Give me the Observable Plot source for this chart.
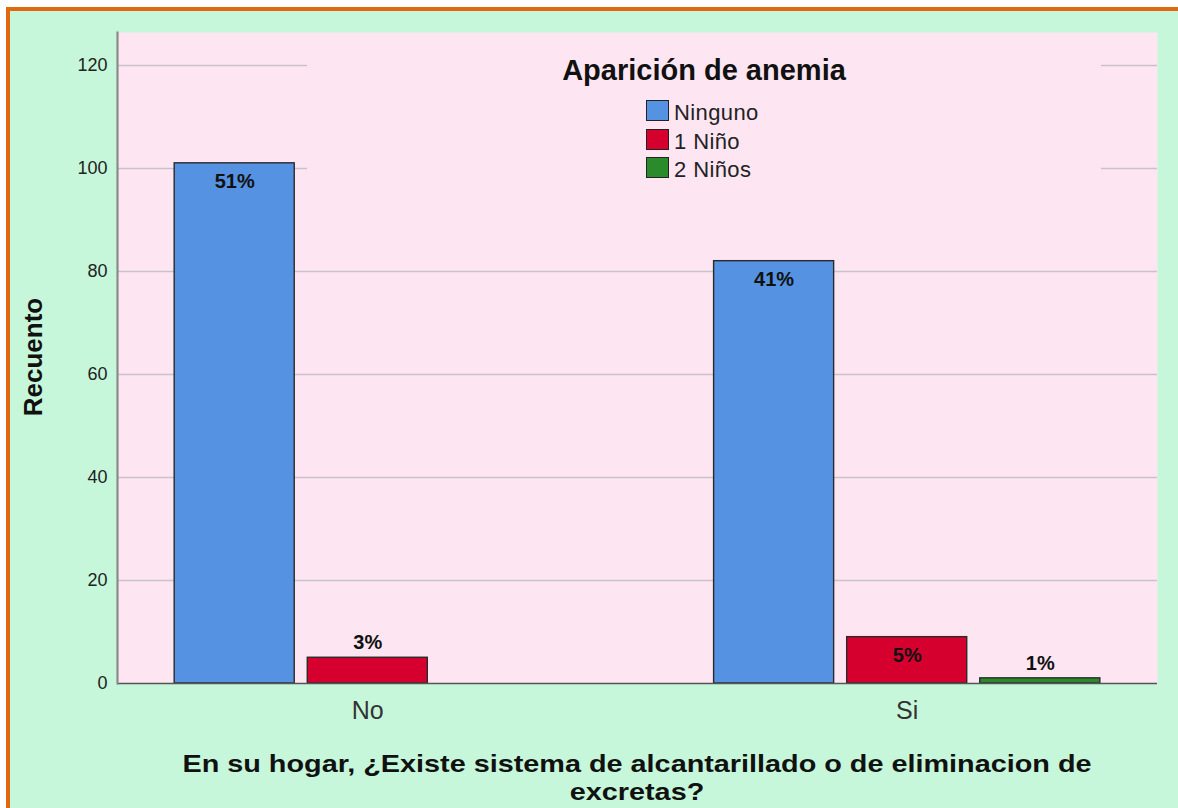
<!DOCTYPE html>
<html>
<head>
<meta charset="utf-8">
<script src="https://cdn.jsdelivr.net/npm/d3@7"></script>
<script src="https://cdn.jsdelivr.net/npm/@observablehq/plot@0.6"></script>
<style>
  html, body { margin: 0; padding: 0; background: #fff; }
  #page { position: relative; width: 1178px; height: 808px; overflow: hidden; background: #fff;
          font-family: "Liberation Sans", Arial, sans-serif; }
  #topbar { position: absolute; left: 6px; top: 7px; width: 1172px; height: 4px; background: #e0680e; }
  #leftbar { position: absolute; left: 6px; top: 7px; width: 4px; height: 801px; background: #e0680e; }
  #bg { position: absolute; left: 10px; top: 11px; width: 1168px; height: 797px; background: #c6f7da; }
  .layer { position: absolute; left: 0; top: 0; }
  #legend { position: absolute; left: 307px; top: 40px; width: 794px; height: 140px; background: #fde6f2; }
  #legend .title { position: absolute; left: 0; top: 14px; width: 100%; text-align: center;
                   font-weight: bold; font-size: 29px; line-height: 32px; color: #111; }
  #legend .item { position: absolute; left: 339px; height: 22px; }
  #legend .sw { position: absolute; left: 0; top: 0; width: 21px; height: 19px; border: 1.5px solid #222; }
  #legend .lab { position: absolute; left: 28px; top: 1px; font-size: 22px; letter-spacing: 0.4px;
                 line-height: 24px; color: #222; white-space: nowrap; }
  #ytitle { position: absolute; left: 33px; top: 357px; transform: translate(-50%, -50%) rotate(-90deg);
            font-weight: bold; font-size: 26px; color: #111; white-space: nowrap; }
  #xtitle { position: absolute; left: 37px; top: 750px; width: 1200px; text-align: center;
            font-weight: bold; font-size: 24px; line-height: 28px; color: #111;
            transform: scaleX(1.2); transform-origin: 600px 0; }
</style>
</head>
<body>
<div id="page">
  <div id="bg"></div>
  <div id="topbar"></div>
  <div id="leftbar"></div>
  <div id="back" class="layer"></div>
  <div id="legend"></div>
  <div id="front" class="layer"></div>
  <div id="ytitle">Recuento</div>
  <div id="xtitle">En su hogar, ¿Existe sistema de alcantarillado o de eliminacion de<br>excretas?</div>
</div>
<script>
// ---- data ----
const groups = ["No", "Si"];
const series = ["Ninguno", "1 Niño", "2 Niños"];
const countsNo = [101, 5, 0];
const countsSi = [82, 9, 1];
const pctNo = ["51%", "3%", ""];
const pctSi = ["41%", "5%", "1%"];
const seriesColors = ["#5593e2", "#d6002f", "#2b8a2b"];
const yTicks = [0, 20, 40, 60, 80, 100, 120];
const yMax = 126.4;
const legendTitle = "Aparición de anemia";

// ---- table ----
const rows = [];
groups.forEach((g, gi) => {
  const counts = gi === 0 ? countsNo : countsSi;
  const pcts = gi === 0 ? pctNo : pctSi;
  series.forEach((s, si) => {
    if (counts[si] > 0) rows.push({group: g, series: s, value: counts[si], pct: pcts[si]});
  });
});

const frameOpts = {
  width: 1178,
  height: 808,
  marginLeft: 117,
  marginRight: 21,
  marginTop: 32,
  marginBottom: 125,
  style: {background: "transparent", fontFamily: "'Liberation Sans', Arial, sans-serif", overflow: "visible"}
};

// background layer: plot area, grid, y axis
const back = Plot.plot({
  ...frameOpts,
  y: {domain: [0, yMax], label: null},
  marks: [
    Plot.frame({fill: "#fde6f2", stroke: null}),
    Plot.ruleY(yTicks.filter(t => t > 0), {stroke: "#c9c3c9", strokeWidth: 1.6}),
    Plot.axisY({ticks: yTicks, tickSize: 0, tickPadding: 10, fontSize: 18, color: "#222", label: null})
  ]
});
document.getElementById("back").appendChild(back);

// front layer: bars, labels, group axis
const labelFont = {fontWeight: "bold", fontSize: 20, fill: "#111"};
const front = Plot.plot({
  ...frameOpts,
  fx: {domain: groups, paddingInner: 0.284, paddingOuter: 0.106, round: false, label: null},
  x: {domain: series, paddingInner: 0.098, paddingOuter: 0, round: false, axis: null},
  y: {domain: [0, yMax], label: null, axis: null},
  color: {domain: series, range: seriesColors},
  marks: [
    Plot.barY(rows, {fx: "group", x: "series", y: "value", fill: "series", stroke: "#2a2a2a", strokeWidth: 1.4}),
    Plot.text(rows.filter(d => d.value >= 8), {fx: "group", x: "series", y: "value", text: "pct", dy: 18, ...labelFont}),
    Plot.text(rows.filter(d => d.value < 8), {fx: "group", x: "series", y: "value", text: "pct", dy: -15, ...labelFont}),
    Plot.axisFx({anchor: "bottom", tickSize: 0, tickPadding: 18, fontSize: 25, label: null, color: "#333"})
  ]
});
document.getElementById("front").appendChild(front);

// axis lines on top
const lines = Plot.plot({
  ...frameOpts,
  y: {domain: [0, yMax], axis: null},
  marks: [
    Plot.ruleY([0], {stroke: "#555", strokeWidth: 1.5}),
    Plot.frame({anchor: "left", stroke: "#8a8a8a", strokeWidth: 2.2})
  ]
});
const linesDiv = document.createElement("div");
linesDiv.className = "layer";
linesDiv.appendChild(lines);
document.getElementById("page").appendChild(linesDiv);

// ---- legend ----
const legend = document.getElementById("legend");
const t = document.createElement("div");
t.className = "title";
t.textContent = legendTitle;
legend.appendChild(t);
series.forEach((s, i) => {
  const item = document.createElement("div");
  item.className = "item";
  item.style.top = (60 + i * 28.5) + "px";
  const sw = document.createElement("div");
  sw.className = "sw";
  sw.style.background = seriesColors[i];
  const lab = document.createElement("div");
  lab.className = "lab";
  lab.textContent = s;
  item.appendChild(sw);
  item.appendChild(lab);
  legend.appendChild(item);
});
</script>
</body>
</html>
